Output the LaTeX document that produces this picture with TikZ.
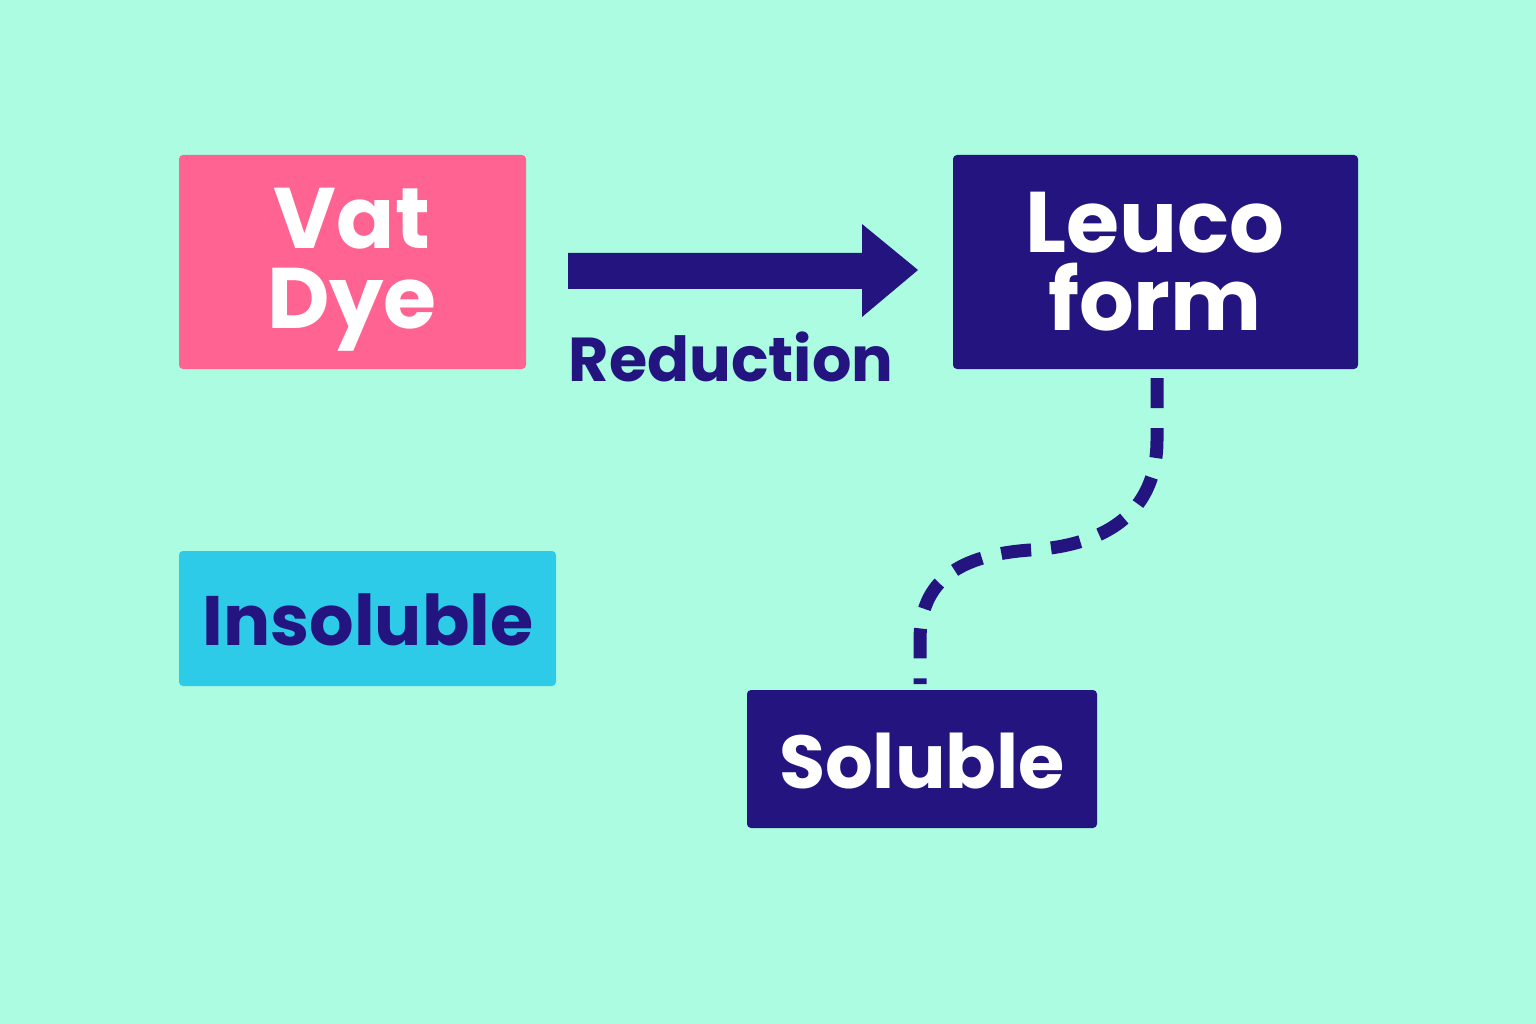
\documentclass[tikz,border=0pt]{standalone}
\usepackage{fontspec}
\setmainfont{Poppins}[BoldFont={* Bold}]
\definecolor{bg}{HTML}{ABFCE0}
\definecolor{navy}{HTML}{231480}
\definecolor{pink}{HTML}{FF6392}
\definecolor{cyan}{HTML}{2ECBE8}
\begin{document}
\begin{tikzpicture}[x=1pt,y=-1pt,
  lbl/.style={inner sep=0pt,align=center,font=\bfseries}]
\fill[bg] (0,0) rectangle (1536,1024);
\useasboundingbox (0,0) rectangle (1536,1024);
\fill[pink,rounded corners=4pt] (179,155) rectangle (526,369);
\node[lbl,text=white,font=\fontsize{86}{80}\bfseries] (vat) at (352,270) {Vat\\Dye};
\fill[navy,rounded corners=4pt] (953,155) rectangle (1358,369);
\node[lbl,text=white,font=\fontsize{86}{78}\bfseries] (leuco) at (1155,262) {Leuco\\form};
\fill[cyan,rounded corners=4pt] (179,551) rectangle (556,686);
\node[lbl,text=navy,font=\fontsize{70}{80}\bfseries] (ins) at (368,620) {Insoluble};
\fill[navy,rounded corners=4pt] (747,690) rectangle (1097,828);
\node[lbl,text=white,font=\fontsize{75}{80}\bfseries] (sol) at (922,761) {Soluble};
\node[lbl,text=navy,font=\fontsize{62}{70}\bfseries] (red) at (731,357) {Reduction};
\fill[navy] (568,253) -- (862,253) -- (862,224) -- (918,270) -- (862,317) -- (862,289) -- (568,289) -- cycle;
\coordinate (a) at (1157,378);
\coordinate (b) at (920,684);
\draw[navy,line width=13pt,dash pattern=on 30pt off 20pt] (a) -- (1157,440) .. controls (1157,540) and (1060,548) .. (1030,550) .. controls (960,555) and (920,580) .. (920,640) -- (b);
\end{tikzpicture}
\end{document}
